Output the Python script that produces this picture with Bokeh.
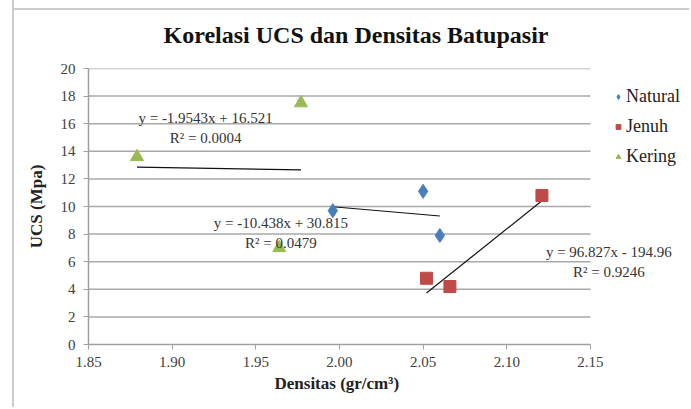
from bokeh.plotting import figure
from bokeh.models import Legend, LegendItem, Label, FixedTicker, NumeralTickFormatter, Title
from bokeh.embed import file_html
from bokeh.resources import INLINE
import numpy as np

# Data
natural_x = [1.996, 2.050, 2.060]
natural_y = [9.7, 11.1, 7.9]
jenuh_x = [2.052, 2.066, 2.121]
jenuh_y = [4.8, 4.2, 10.8]
kering_x = [1.879, 1.977, 1.964]
kering_y = [13.6, 17.5, 7.0]

series_names = ["Natural", "Jenuh", "Kering"]
slopes = [-10.438, 96.827, -1.9543]
intercepts = [30.815, -194.96, 16.521]
r2 = ["0.0479", "0.9246", "0.0004"]
eq_texts = ["y = -10.438x + 30.815", "y = 96.827x - 194.96", "y = -1.9543x + 16.521"]
chart_title = "Korelasi UCS dan Densitas Batupasir"

x_ticks = [1.85, 1.90, 1.95, 2.00, 2.05, 2.10, 2.15]
y_ticks = list(range(0, 21, 2))

SERIF = "Liberation Serif"

p = figure(width=677, height=407, output_backend="svg", toolbar_location=None,
           x_range=(1.85, 2.2074), y_range=(0, 20),
           min_border_left=74, min_border_right=5, min_border_top=68, min_border_bottom=63)
p.styles = {"position": "absolute", "left": "12px", "top": "0px",
            "border-left": "2px solid #cccccc",
            "background": "linear-gradient(#cccccc, #cccccc) no-repeat 0 8px / 100% 2px"}

p.title.text = chart_title
p.title.text_font = SERIF
p.title.text_font_size = "24px"
p.title.text_font_style = "bold"
p.title.align = "left"
p.title.offset = 75
p.title.vertical_align = "top"
p.title.text_color = "#111111"
p.title.standoff = 38

p.outline_line_color = None
p.background_fill_color = "white"
p.border_fill_alpha = 0

# grid lines drawn over the x-axis span only
p.xgrid.grid_line_color = None
p.ygrid.grid_line_color = None
gy = y_ticks[1:]
p.segment(x0=[x_ticks[0]] * len(gy), x1=[x_ticks[-1]] * len(gy), y0=gy, y1=gy,
          line_color="#a8a8a8", line_width=1.5)

# axes
xax = p.below[0]
yax = p.left[0]
xax.ticker = FixedTicker(ticks=x_ticks)
xax.formatter = NumeralTickFormatter(format="0.00")
xax.bounds = (x_ticks[0], x_ticks[-1])
yax.ticker = FixedTicker(ticks=y_ticks)
for ax in (xax, yax):
    ax.axis_line_color = "#a0a0a0"
    ax.axis_line_width = 1.5
    ax.major_tick_line_color = "#a0a0a0"
    ax.major_tick_in = 0
    ax.major_tick_out = 5
    ax.minor_tick_line_color = None
    ax.major_label_text_font = SERIF
    ax.major_label_text_font_size = "15px"
    ax.major_label_text_color = "#404040"
    ax.axis_label_text_font = SERIF
    ax.axis_label_text_font_size = "17px"
    ax.axis_label_text_font_style = "bold"
    ax.axis_label_text_color = "#222222"
yax.axis_label = "UCS (Mpa)"
xax.major_label_standoff = 7
yax.major_label_standoff = 8
yax.axis_label_standoff = 12

# x-axis title, aligned to the axis span
p.add_layout(Title(text="Densitas (gr/cm³)", align="left", offset=186, vertical_align="top",
                   standoff=8, text_font=SERIF, text_font_size="17px", text_font_style="bold",
                   text_color="#222222"), "below")

colors = ["#4a7ebb", "#be4b48", "#98b954"]
xs_all = [natural_x, jenuh_x, kering_x]
ys_all = [natural_y, jenuh_y, kering_y]

# trendlines
for xs, m, b in zip(xs_all, slopes, intercepts):
    xx = np.array([min(xs), max(xs)])
    p.line(xx, m * xx + b, line_color="#111111", line_width=1.2)

r_nat = p.scatter(natural_x, natural_y, marker="diamond", size=14, color=colors[0])
r_jen = p.scatter(jenuh_x, jenuh_y, marker="square", size=12, color=colors[1])
r_ker = p.scatter(kering_x, kering_y, marker="triangle", size=13, color=colors[2])

# legend-size proxies
l_nat = p.scatter([np.nan], [np.nan], marker="diamond", size=12, color=colors[0])
l_jen = p.scatter([np.nan], [np.nan], marker="square", size=10, color=colors[1])
l_ker = p.scatter([np.nan], [np.nan], marker="triangle", size=11, color=colors[2])

legend = Legend(items=[LegendItem(label=n, renderers=[r]) for n, r in zip(series_names, [l_nat, l_jen, l_ker])],
                location=(524, 177), background_fill_alpha=0, border_line_color=None,
                label_text_font=SERIF, label_text_font_size="18px", label_text_color="#222222",
                spacing=9, glyph_width=12, glyph_height=21, label_height=21,
                label_standoff=2, padding=0, margin=0)
p.add_layout(legend, "center")

# equation labels (anchored in data space)
eq_pos = [(1.965, 8.1), (2.161, 6.0), (1.92, 15.7)]
for (ex, ey), t, r in zip(eq_pos, eq_texts, r2):
    p.add_layout(Label(x=ex, y=ey, text=t + "\nR² = " + r, text_align="center",
                       text_font=SERIF, text_font_size="15px", text_color="#333333",
                       text_line_height=1.25, text_baseline="middle"))

open("out.html", "w").write(file_html(p, INLINE))
